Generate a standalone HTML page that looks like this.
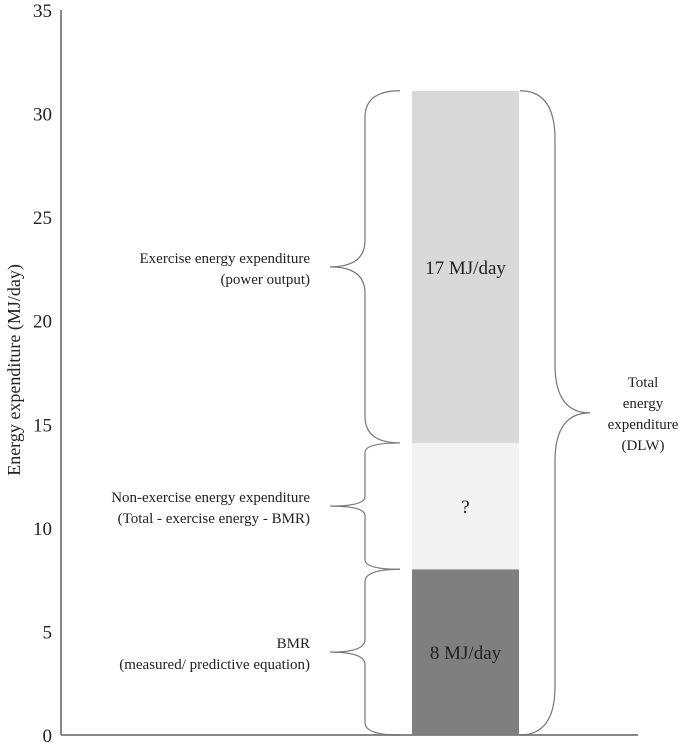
<!DOCTYPE html>
<html><head><meta charset="utf-8"><style>
body{margin:0;background:#fff}
svg text{font-family:"Liberation Serif",serif;fill:#222}
</style></head><body>
<svg width="699" height="744">
<g id="ax"></g><g id="bars"></g><g id="braces"></g><g id="labels"></g>
</svg>
<script>
const segNames=["bmr","non-exercise","exercise"];
const segValues=[8,6.1,17];
const segColors=["#7f7f7f","#f2f2f2","#d9d9d9"];
const segText=["8 MJ/day","?","17 MJ/day"];
const tickValues=[0,5,10,15,20,25,30,35];
const braceLabels=[["BMR","(measured/ predictive equation)"],["Non-exercise energy expenditure","(Total - exercise energy - BMR)"],["Exercise energy expenditure","(power output)"]];
const NS="http://www.w3.org/2000/svg";
const y=v=>735-v*(725/35);
const bx0=412,bx1=519;
function mk(t,a,p){const e=document.createElementNS(NS,t);for(const k in a)e.setAttribute(k,a[k]);p.appendChild(e);return e;}
const ax=document.getElementById('ax');
let l=mk('line',{x1:61,y1:10,x2:61,y2:735,stroke:'#888','stroke-width':2},ax);


l=mk('line',{x1:61,y1:735,x2:638,y2:735,stroke:'#888','stroke-width':2},ax);


tickValues.forEach(v=>{const t=mk('text',{x:52,y:y(v)+7,'text-anchor':'end','font-size':19},ax);t.textContent=v;

});
let tt=mk('text',{x:0,y:0,'text-anchor':'middle','font-size':18,transform:'translate(20,370) rotate(-90)'},ax);
tt.textContent='Energy expenditure (MJ/day)';


const bars=document.getElementById('bars'),br=document.getElementById('braces'),lb=document.getElementById('labels');
function brace(x,ya,yb,dir){ // dir=1 points right
  const m=(ya+yb)/2,w=35*dir;
  return `M${x},${ya} Q${x+w},${ya} ${x+w},${ya+ (m-ya)*0.15} L${x+w},${m-(m-ya)*0.15} Q${x+w},${m} ${x+2*w},${m} Q${x+w},${m} ${x+w},${m+(yb-m)*0.15} L${x+w},${yb-(yb-m)*0.15} Q${x+w},${yb} ${x},${yb}`;
}
let cum=0;
segValues.forEach((v,i)=>{
  const y0=y(cum),y1=y(cum+v);
  const r=mk('rect',{x:bx0,y:y1,width:bx1-bx0,height:y0-y1,fill:segColors[i]},bars);
  
  
  const t=mk('text',{x:(bx0+bx1)/2,y:(y0+y1)/2+7,'text-anchor':'middle','font-size':19},bars);
  t.textContent=segText[i];
  
  
  const p=mk('path',{d:brace(400,y1,y0,-1),fill:'none',stroke:'#777','stroke-width':1.2},br);
  
  
  const mid=(y0+y1)/2;
  braceLabels[i].forEach((s,j)=>{const q=mk('text',{x:310,y:mid-4+j*21,'text-anchor':'end','font-size':15},lb);q.textContent=s;
  
  });
  cum+=v;
});
const pt=mk('path',{d:brace(520,y(cum),y(0),1),fill:'none',stroke:'#777','stroke-width':1.2},br);


["Total","energy","expenditure","(DLW)"].forEach((s,j)=>{const q=mk('text',{x:643,y:y(cum/2)-26+j*21,'text-anchor':'middle','font-size':15},lb);q.textContent=s;

});
</script>
</body></html>
